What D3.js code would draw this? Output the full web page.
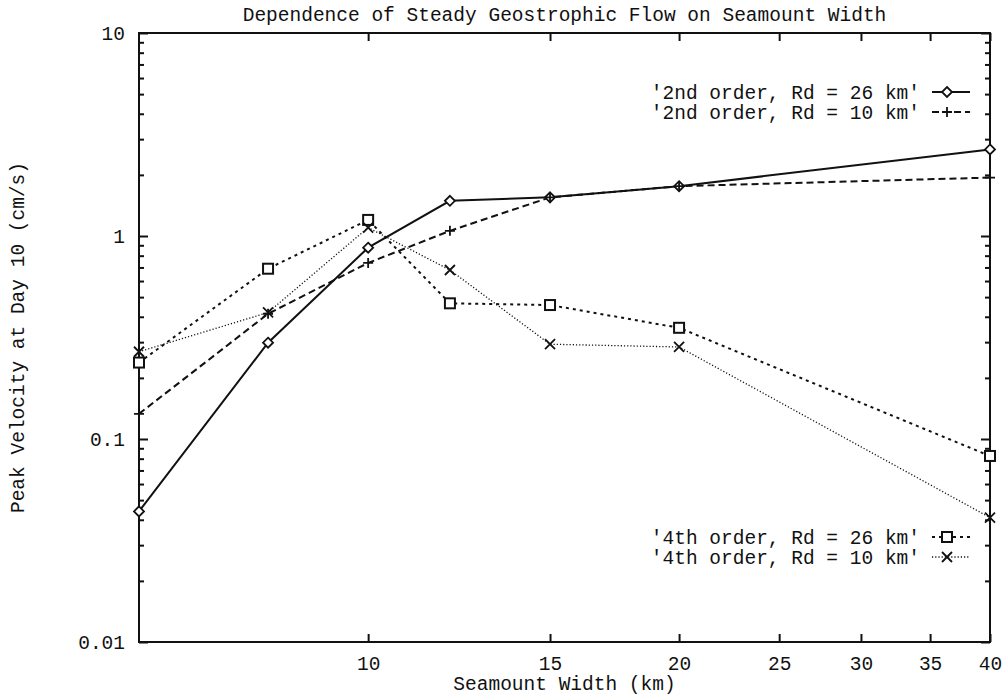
<!DOCTYPE html>
<html>
<head>
<meta charset="utf-8">
<script src="https://cdn.jsdelivr.net/npm/d3@7"></script>
<style>
  html, body { margin: 0; padding: 0; background: #fff; }
  svg text { font-family: "Liberation Mono", "Courier New", monospace; font-size: 19.5px; fill: #111; }
</style>
</head>
<body>
<svg id="chart" width="1005" height="696"></svg>
<script>
// Seamount widths (km)
const widths = [6, 8, 10, 12, 15, 20, 40];

// Peak velocity at day 10 (cm/s) for each run
const order2Rd26 = [0.044, 0.298, 0.876, 1.49, 1.55, 1.76, 2.67];
const order2Rd10 = [0.133, 0.414, 0.737, 1.06, 1.55, 1.76, 1.94];
const order4Rd26 = [0.238, 0.69, 1.2, 0.466, 0.457, 0.353, 0.0825];
const order4Rd10 = [0.269, 0.42, 1.1, 0.68, 0.293, 0.284, 0.041];

const seriesNames = [
  "'2nd order, Rd = 26 km'",
  "'2nd order, Rd = 10 km'",
  "'4th order, Rd = 26 km'",
  "'4th order, Rd = 10 km'"
];

const xTickValues = [10, 15, 20, 25, 30, 35, 40];
const yTickValues = [0.01, 0.1, 1, 10];
const yTickLabels = ["0.01", "0.1", "1", "10"];

const titleText = "Dependence of Steady Geostrophic Flow on Seamount Width";
const xLabelText = "Seamount Width (km)";
const yLabelText = "Peak Velocity at Day 10 (cm/s)";

// ---- layout ----
const plotL = 139, plotR = 990, plotT = 33, plotB = 642;
const svg = d3.select("#chart");

const x = d3.scaleLog().domain([6, 40]).range([plotL, plotR]);
const y = d3.scaleLog().domain([0.01, 10]).range([plotB, plotT]);

// line styles for each series
const styles = [
  { data: order2Rd26, dash: null,    width: 2.0, marker: "diamond" },
  { data: order2Rd10, dash: "7,4",   width: 2.0, marker: "plus" },
  { data: order4Rd26, dash: "3,4",   width: 2.0, marker: "square" },
  { data: order4Rd10, dash: "1.2,2", width: 1.3, marker: "cross" }
];

// ---- frame ----
svg.append("rect")
  .attr("x", plotL).attr("y", plotT)
  .attr("width", plotR - plotL).attr("height", plotB - plotT)
  .attr("fill", "none").attr("stroke", "#111").attr("stroke-width", 2);

function styleTicks(g) {
  g.select(".domain").remove();
  g.selectAll(".tick line").attr("stroke", "#111").attr("stroke-width", 2);
}

// ---- y axis ticks (left and right, inward) ----
const yMinor = [];
[0.01, 0.1, 1].forEach(d => { for (let k = 2; k <= 9; k++) yMinor.push(d * k); });

const gyl = svg.append("g").attr("transform", `translate(${plotL},0)`)
  .call(d3.axisLeft(y).tickValues(yTickValues).tickSize(-9)
    .tickFormat((d, i) => yTickLabels[i]));
styleTicks(gyl);
gyl.selectAll(".tick text").attr("dy", "0.35em").attr("x", -14).style("font-size", "19.5px");

styleTicks(svg.append("g").attr("transform", `translate(${plotL},0)`)
  .call(d3.axisLeft(y).tickValues(yMinor).tickSize(-5).tickFormat("")));
styleTicks(svg.append("g").attr("transform", `translate(${plotR},0)`)
  .call(d3.axisRight(y).tickValues(yTickValues).tickSize(-9).tickFormat("")));
styleTicks(svg.append("g").attr("transform", `translate(${plotR},0)`)
  .call(d3.axisRight(y).tickValues(yMinor).tickSize(-5).tickFormat("")));

// ---- x axis ticks (bottom and top, inward) ----
const gxb = svg.append("g").attr("transform", `translate(0,${plotB})`)
  .call(d3.axisBottom(x).tickValues(xTickValues).tickSize(-8).tickFormat(d3.format("d")));
styleTicks(gxb);
gxb.selectAll(".tick text").attr("y", 14).attr("dy", "0.71em").style("font-size", "19.5px");

styleTicks(svg.append("g").attr("transform", `translate(0,${plotT})`)
  .call(d3.axisTop(x).tickValues(xTickValues).tickSize(-8).tickFormat("")));

// ---- titles ----
svg.append("text").attr("x", (plotL + plotR) / 2).attr("y", 21)
  .attr("text-anchor", "middle").text(titleText);
svg.append("text").attr("x", (plotL + plotR) / 2).attr("y", 690)
  .attr("text-anchor", "middle").text(xLabelText);
svg.append("text")
  .attr("transform", `translate(24,${(plotT + plotB) / 2}) rotate(-90)`)
  .attr("text-anchor", "middle").text(yLabelText);

// ---- markers ----
function drawMarker(g, type, cx, cy) {
  const s = 5;
  if (type === "diamond") {
    g.append("path")
      .attr("d", `M${cx},${cy - s}L${cx + s},${cy}L${cx},${cy + s}L${cx - s},${cy}Z`)
      .attr("fill", "#fff").attr("stroke", "#111").attr("stroke-width", 1.8);
  } else if (type === "plus") {
    g.append("path")
      .attr("d", `M${cx - s},${cy}H${cx + s}M${cx},${cy - s}V${cy + s}`)
      .attr("stroke", "#111").attr("stroke-width", 1.8);
  } else if (type === "square") {
    g.append("rect")
      .attr("x", cx - s).attr("y", cy - s).attr("width", 2 * s).attr("height", 2 * s)
      .attr("fill", "#fff").attr("stroke", "#111").attr("stroke-width", 2);
  } else if (type === "cross") {
    g.append("path")
      .attr("d", `M${cx - s},${cy - s}L${cx + s},${cy + s}M${cx - s},${cy + s}L${cx + s},${cy - s}`)
      .attr("stroke", "#111").attr("stroke-width", 1.8);
  }
}

const line = d3.line().x(d => x(d[0])).y(d => y(d[1]));
const plot = svg.append("g");

styles.forEach(st => {
  const pts = widths.map((w, i) => [w, st.data[i]]);
  plot.append("path").datum(pts)
    .attr("d", line)
    .attr("fill", "none").attr("stroke", "#111")
    .attr("stroke-width", st.width)
    .attr("stroke-dasharray", st.dash);
});
styles.forEach(st => {
  const g = plot.append("g");
  widths.forEach((w, i) => drawMarker(g, st.marker, x(w), y(st.data[i])));
});

// ---- legend ----
const legendRows = [92, 112, 537, 557];
const textRight = 920, sampleL = 932, sampleR = 970;
styles.forEach((st, i) => {
  const ly = legendRows[i];
  svg.append("text").attr("x", textRight).attr("y", ly).attr("dy", "0.35em")
    .attr("text-anchor", "end").text(seriesNames[i]);
  svg.append("line")
    .attr("x1", sampleL).attr("x2", sampleR).attr("y1", ly).attr("y2", ly)
    .attr("stroke", "#111").attr("stroke-width", st.width)
    .attr("stroke-dasharray", st.dash);
  drawMarker(svg.append("g"), st.marker, (sampleL + sampleR) / 2 - 4, ly);
});
</script>
</body>
</html>
